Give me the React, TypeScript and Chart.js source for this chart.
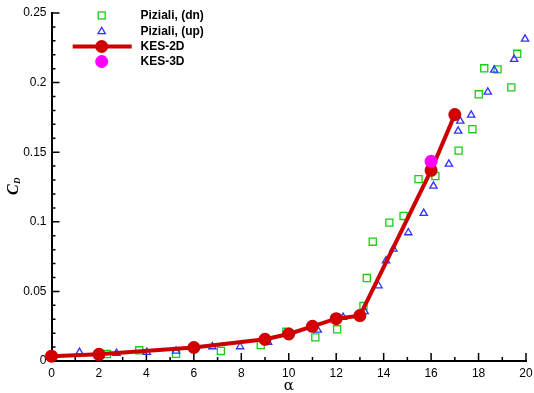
import React, { useEffect, useRef } from "react";
import { Chart, registerables } from "chart.js";

Chart.register(...registerables);

const xTicks = [0, 2, 4, 6, 8, 10, 12, 14, 16, 18, 20];
const xMinor = [1, 3, 5, 7, 9, 11, 13, 15, 17, 19];
const yTicks = [0, 0.05, 0.1, 0.15, 0.2, 0.25];
const yMinor = [0.01, 0.02, 0.03, 0.04, 0.06, 0.07, 0.08, 0.09, 0.11, 0.12, 0.13, 0.14, 0.16, 0.17, 0.18, 0.19, 0.21, 0.22, 0.23, 0.24];
const yTickLabels = ["0", "0.05", "0.1", "0.15", "0.2", "0.25"];

const kes2dX = [0, 2, 6, 9, 10, 11, 12, 13, 16, 17];
const kes2dY = [0.0035, 0.0048, 0.0097, 0.0156, 0.0194, 0.0249, 0.0304, 0.0326, 0.137, 0.177];
const kes3dX = [16];
const kes3dY = [0.1435];

const dnX = [2.34, 3.7, 5.25, 7.14, 8.82, 9.9, 11.12, 12.04, 13.15, 13.29, 13.54, 14.24, 14.84, 15.47, 16.18, 17.16, 17.74, 18.01, 18.24, 18.8, 19.38, 19.63];
const dnY = [0.005, 0.0077, 0.0052, 0.0072, 0.0115, 0.021, 0.017, 0.0228, 0.0395, 0.0596, 0.0857, 0.0994, 0.1042, 0.1307, 0.1329, 0.1511, 0.1665, 0.1916, 0.2103, 0.2095, 0.1966, 0.2207];

const upX = [1.18, 2.74, 4.02, 5.25, 6.78, 7.95, 9.13, 11.22, 12.29, 13.2, 13.78, 14.1, 14.41, 15.04, 15.69, 16.1, 16.75, 17.14, 17.23, 17.69, 18.39, 18.66, 19.5, 19.96];
const upY = [0.0062, 0.0055, 0.0062, 0.0072, 0.0103, 0.0103, 0.0134, 0.0223, 0.0314, 0.0355, 0.0541, 0.072, 0.0805, 0.0922, 0.1061, 0.1257, 0.1415, 0.1652, 0.1724, 0.1767, 0.1932, 0.209, 0.2167, 0.2313];

const legendLabels = ["Piziali, (dn)", "Piziali, (up)", "KES-2D", "KES-3D"];

const GREEN = "#19cc19";
const BLUE = "#3030ff";
const RED = "#cc0000";
const MAGENTA = "#ff00ff";

const zip = (xs: number[], ys: number[]) => xs.map((x, i) => ({ x, y: ys[i] }));

export default function App() {
  const ref = useRef<HTMLCanvasElement | null>(null);
  useEffect(() => {
    const canvas = ref.current!;
    const decor = {
      id: "decor",
      beforeDatasetsDraw(chart: any) {
        const ctx = chart.ctx;
        const xs = chart.scales.x;
        const ys = chart.scales.y;
        const x0 = xs.getPixelForValue(0);
        const y0 = ys.getPixelForValue(0);
        ctx.save();
        ctx.strokeStyle = "#000";
        ctx.lineWidth = 1.5;
        ctx.beginPath();
        xTicks.forEach((v) => { const p = xs.getPixelForValue(v); ctx.moveTo(p, y0); ctx.lineTo(p, y0 - 8); });
        xMinor.forEach((v) => { const p = xs.getPixelForValue(v); ctx.moveTo(p, y0); ctx.lineTo(p, y0 - 4); });
        yTicks.forEach((v) => { const p = ys.getPixelForValue(v); ctx.moveTo(x0, p); ctx.lineTo(x0 + 8, p); });
        yMinor.forEach((v) => { const p = ys.getPixelForValue(v); ctx.moveTo(x0, p); ctx.lineTo(x0 + 4, p); });
        ctx.stroke();
        ctx.restore();
      },
      afterDraw(chart: any) {
        const ctx = chart.ctx;
        const area = chart.chartArea;
        ctx.save();
        ctx.fillStyle = "#000";
        ctx.font = "15px 'DejaVu Serif', 'Liberation Serif', serif";
        ctx.textAlign = "center";
        ctx.textBaseline = "middle";
        ctx.fillText("α", (area.left + area.right) / 2, 386);
        ctx.translate(14, 187);
        ctx.rotate(-Math.PI / 2);
        ctx.font = "italic bold 16px 'Liberation Serif', serif";
        ctx.textAlign = "left";
        ctx.fillText("C", -8, 0);
        ctx.font = "italic bold 9px 'Liberation Serif', serif";
        ctx.fillText("D", 3, 4);
        ctx.restore();

        ctx.save();
        const sx = 101.7;
        const tx = 140.5;
        const rows = [15.5, 31.5, 46.5, 61.5];
        ctx.font = "bold 12px 'Liberation Sans', Arial, sans-serif";
        ctx.textAlign = "left";
        ctx.textBaseline = "middle";
        ctx.fillStyle = "#000";
        legendLabels.forEach((t, i) => ctx.fillText(t, tx, rows[i] + 0.5));
        ctx.strokeStyle = GREEN;
        ctx.lineWidth = 1.3;
        ctx.strokeRect(sx - 3.5, rows[0] - 3.5, 7, 7);
        ctx.strokeStyle = BLUE;
        ctx.beginPath();
        const r = 4.2;
        ctx.moveTo(sx, rows[1] - r);
        ctx.lineTo(sx + r * 0.866, rows[1] + r / 2);
        ctx.lineTo(sx - r * 0.866, rows[1] + r / 2);
        ctx.closePath();
        ctx.stroke();
        ctx.strokeStyle = RED;
        ctx.lineWidth = 4;
        ctx.beginPath();
        ctx.moveTo(72.7, rows[2]);
        ctx.lineTo(131.7, rows[2]);
        ctx.stroke();
        ctx.fillStyle = "#d40000";
        ctx.lineWidth = 2;
        ctx.beginPath();
        ctx.arc(sx, rows[2], 5.5, 0, Math.PI * 2);
        ctx.fill();
        ctx.stroke();
        ctx.fillStyle = MAGENTA;
        ctx.beginPath();
        ctx.arc(sx, rows[3], 6.5, 0, Math.PI * 2);
        ctx.fill();
        ctx.restore();
      },
    };

    const fixY = (s: any) => { s.width = 51.5; s.paddingTop = 0; s.paddingBottom = 0; s.paddingLeft = 0; s.paddingRight = 0; };
    const fixX = (s: any) => { s.height = 32; s.paddingTop = 0; s.paddingBottom = 0; s.paddingLeft = 0; s.paddingRight = 0; };

    const chart = new Chart(canvas, {
      type: "scatter",
      data: {
        datasets: [
          {
            label: legendLabels[3],
            data: zip(kes3dX, kes3dY),
            pointStyle: "circle",
            pointRadius: 6.5,
            backgroundColor: MAGENTA,
            borderColor: MAGENTA,
            borderWidth: 0,
            clip: false,
            order: 0,
          },
          {
            label: legendLabels[2],
            data: zip(kes2dX, kes2dY),
            showLine: true,
            borderColor: RED,
            borderWidth: 4,
            pointStyle: "circle",
            pointRadius: 5.5,
            pointBorderWidth: 2,
            pointBackgroundColor: "#d40000",
            pointBorderColor: RED,
            clip: false,
            order: 1,
          },
          {
            label: legendLabels[1],
            data: zip(upX, upY),
            pointStyle: "triangle",
            pointRadius: 4.2,
            pointBorderWidth: 1.3,
            pointBackgroundColor: "rgba(0,0,0,0)",
            pointBorderColor: BLUE,
            clip: false,
            order: 2,
          },
          {
            label: legendLabels[0],
            data: zip(dnX, dnY),
            pointStyle: "rect",
            pointRadius: 5,
            pointBorderWidth: 1.3,
            pointBackgroundColor: "rgba(0,0,0,0)",
            pointBorderColor: GREEN,
            clip: false,
            order: 3,
          },
        ],
      },
      options: {
        responsive: false,
        animation: false,
        devicePixelRatio: 1,
        layout: { padding: { left: 0, top: 13, right: 8, bottom: 0 } },
        plugins: { legend: { display: false }, tooltip: { enabled: false } },
        scales: {
          x: {
            type: "linear",
            min: 0,
            max: 20,
            afterFit: fixX,
            afterBuildTicks: (s: any) => { s.ticks = xTicks.map((v) => ({ value: v })); },
            grid: { display: false, drawTicks: false },
            border: { display: true, color: "#000", width: 2 },
            ticks: {
              padding: 5,
              color: "#000",
              font: { family: "'Liberation Sans', Arial, sans-serif", size: 12 },
              callback: (v: any) => String(v),
              maxRotation: 0,
            },
          },
          y: {
            type: "linear",
            min: 0,
            max: 0.25,
            afterFit: fixY,
            afterBuildTicks: (s: any) => { s.ticks = yTicks.map((v) => ({ value: v })); },
            grid: { display: false, drawTicks: false },
            border: { display: true, color: "#000", width: 2 },
            ticks: {
              padding: 5,
              color: "#000",
              font: { family: "'Liberation Sans', Arial, sans-serif", size: 12 },
              callback: (v: any) => { const i = yTicks.indexOf(v); return i >= 0 ? yTickLabels[i] : ""; },
            },
          },
        },
      },
      plugins: [decor],
    } as any);
    return () => chart.destroy();
  }, []);
  return (
    <div style={{ position: "absolute", left: 0, top: 0, width: 534, height: 393, background: "#fff" }}>
      <canvas ref={ref} width={534} height={393} style={{ display: "block" }} />
    </div>
  );
}
